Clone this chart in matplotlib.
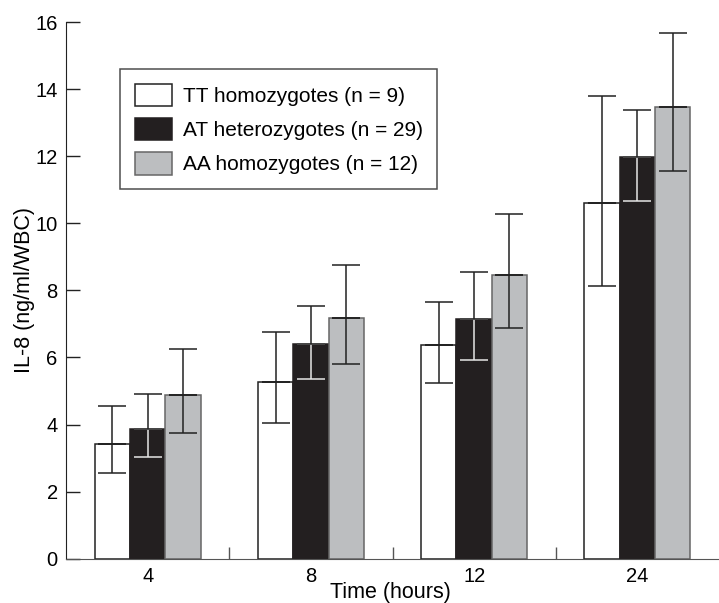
import numpy as np
import matplotlib.pyplot as plt
from matplotlib.ticker import FixedLocator

plt.rcParams['font.family'] = ['Liberation Sans', 'DejaVu Sans']

# time points (hours)
times = ['4', '8', '12', '24']

# IL-8 means per genotype
tt_mean = [3.42, 5.28, 6.37, 10.60]
at_mean = [3.88, 6.40, 7.15, 11.98]
aa_mean = [4.88, 7.18, 8.46, 13.47]

# error bar ends (lower, upper)
tt_lo = [2.56, 4.05, 5.25, 8.14]
tt_hi = [4.55, 6.75, 7.66, 13.79]
at_lo = [3.02, 5.37, 5.93, 10.66]
at_hi = [4.90, 7.53, 8.55, 13.37]
aa_lo = [3.76, 5.81, 6.88, 11.56]
aa_hi = [6.24, 8.75, 10.29, 15.66]

labels = ['TT homozygotes (n = 9)', 'AT heterozygotes (n = 29)', 'AA homozygotes (n = 12)']

fig = plt.figure(figsize=(7.19, 6.03), dpi=100)
ax = fig.add_axes([0.0918, 0.0735, 0.9082, 0.89])

x = np.arange(len(times))
w = 0.216

series = [
    (tt_mean, tt_lo, tt_hi, 'white', '#222222'),
    (at_mean, at_lo, at_hi, '#231f20', '#231f20'),
    (aa_mean, aa_lo, aa_hi, '#bcbec0', '#666666'),
]

for i, (m, lo, hi, fc, ec) in enumerate(series):
    xs = x + (i - 1) * w
    ax.bar(xs, m, width=w, color=fc, edgecolor=ec, linewidth=1.1,
           label=labels[i], zorder=2)
    m = np.array(m)
    down = m - np.array(lo)
    up = np.array(hi) - m
    zeros = np.zeros_like(m)
    low_col = '#e6e6e6' if i == 1 else '#222222'
    ax.errorbar(xs, m, yerr=[down, zeros], fmt='none', ecolor=low_col,
                elinewidth=1.1, capsize=10, capthick=1.1, zorder=3)
    ax.errorbar(xs, m, yerr=[zeros, up], fmt='none', ecolor='#222222',
                elinewidth=1.1, capsize=10, capthick=1.1, zorder=4)

ax.set_xlim(-0.5, 3.5)
ax.set_ylim(0, 16)
ax.set_yticks(np.arange(0, 17, 2))
ax.set_xticks(x)
ax.set_xticklabels(times)
ax.xaxis.set_minor_locator(FixedLocator([0.5, 1.5, 2.5]))

ax.spines['top'].set_visible(False)
ax.spines['right'].set_visible(False)
ax.spines['left'].set_color('#222222')
ax.spines['bottom'].set_color('#555555')

ax.tick_params(axis='y', direction='in', length=10, width=1, color='#222222',
               labelsize=14.5, pad=6)
ax.tick_params(axis='x', which='major', length=0, labelsize=14.5, pad=6)
ax.tick_params(axis='x', which='minor', direction='in', length=9, width=1,
               color='#555555')

ax.set_xlabel('Time (hours)', fontsize=15.5)
ax.set_ylabel('IL-8 (ng/ml/WBC)', fontsize=15.5)
ax.xaxis.set_label_coords(0.497, -0.044)
ax.yaxis.set_label_coords(-0.047, 0.5)

leg = ax.legend(loc='upper left', bbox_to_anchor=(0.0827, 0.9124),
                fontsize=15, fancybox=False, frameon=True,
                handlelength=1.8, handleheight=1.3, handletextpad=0.5,
                labelspacing=0.55, borderpad=0.7, borderaxespad=0)
leg.get_frame().set_edgecolor('#222222')
leg.get_frame().set_linewidth(1.1)

fig.savefig('out.png', dpi=100)
